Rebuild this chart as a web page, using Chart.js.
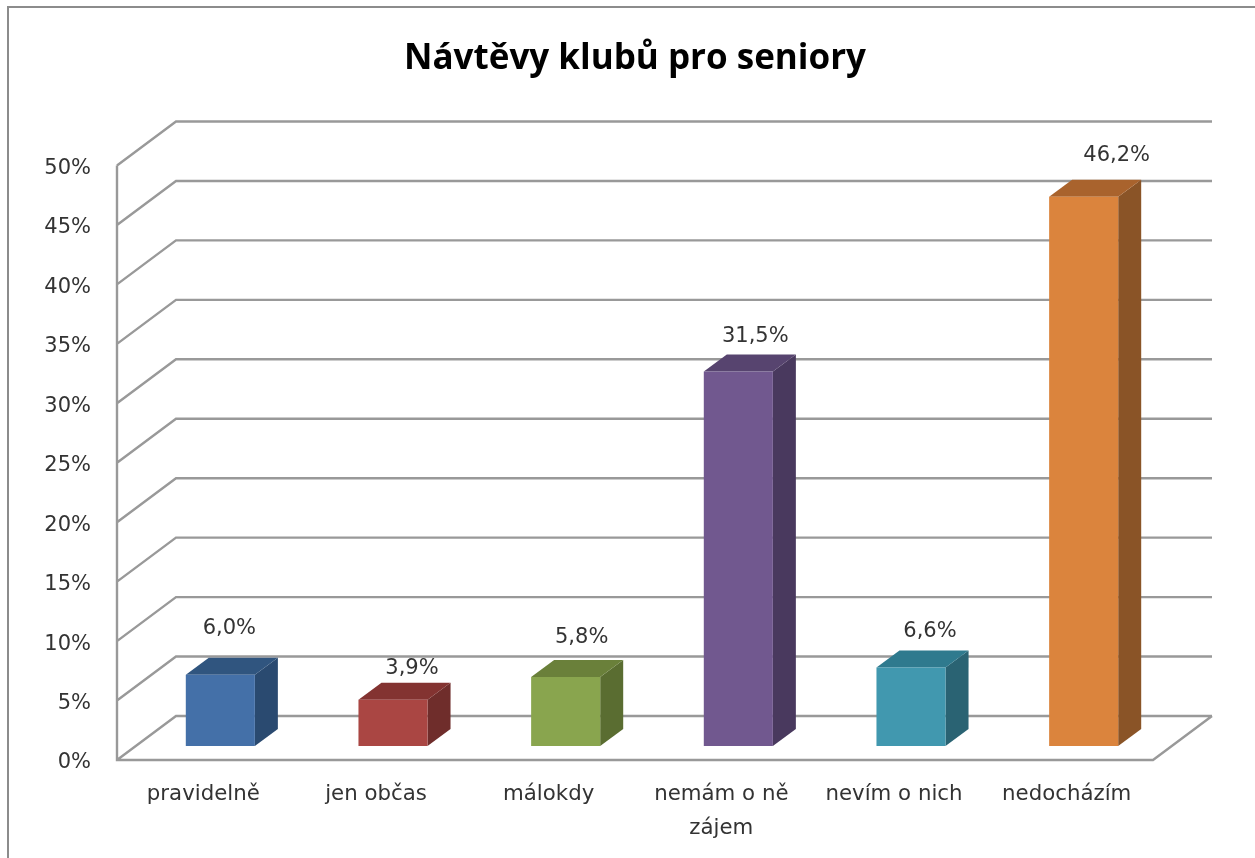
<!DOCTYPE html>
<html>
<head>
<meta charset="utf-8">
<title>Návtěvy klubů pro seniory</title>
<script src="https://cdn.jsdelivr.net/npm/chart.js@4/dist/chart.umd.js"></script>
<style>
  html, body { margin:0; padding:0; background:#fff; }
  canvas { display:block; filter:blur(.7px); }
</style>
</head>
<body>
<canvas id="clubChart" width="1255" height="858"></canvas>
<script>
const chartTitle = 'Návtěvy klubů pro seniory';
const categories = ['pravidelně', 'jen občas', 'málokdy', ['nemám o ně', 'zájem'], 'nevím o nich', 'nedocházím'];
const values     = [6.0, 3.9, 5.8, 31.5, 6.6, 46.2];
const faceColors = ['#4470a8', '#aa4643', '#89a54e', '#71588f', '#4198af', '#db843d'];
const topColors  = ['#30557f', '#833331', '#6a803a', '#57446f', '#2f7a8e', '#a9632d'];
const sideColors = ['#2a4a70', '#6f2d2b', '#5a6d31', '#49395e', '#2a6373', '#8a5427'];

// fake 3D, all in px
const WALL_DX = 59, WALL_DY = 44;   // depth of the floor
const BAR_DX = 17, BAR_DY = 14;     // bars stand in the middle of the floor
const SIDE_DX = 23, SIDE_DY = 17;   // depth of a bar
const GRID = '#999999', TEXT = '#333333';
const FONT = '"DejaVu Sans"';

// hand placed labels in the original, offset from the category centre / back of the bar top
const labelDx = [26, 36, 33, 34, 36, 50];
const labelDy = [29, 14, 22, 18, 19, 24];

const fmt = v => v.toFixed(1).replace('.', ',') + '%';

const walls3d = {
  id: 'walls3d',
  beforeDraw(chart) {
    const ctx = chart.ctx;
    // picture frame, only top and left show
    ctx.save();
    ctx.strokeStyle = '#8c8c8c';
    ctx.lineWidth = 2;
    ctx.beginPath();
    ctx.moveTo(8, chart.height);
    ctx.lineTo(8, 7);
    ctx.lineTo(chart.width, 7);
    ctx.stroke();
    ctx.restore();
  },
  beforeDatasetsDraw(chart) {
    const { ctx, chartArea: a, scales: { y } } = chart;
    ctx.save();
    ctx.strokeStyle = GRID;
    ctx.lineWidth = 2.4;
    ctx.beginPath();
    y.ticks.forEach(t => {
      const py = y.getPixelForValue(t.value);
      ctx.moveTo(a.left, py);
      ctx.lineTo(a.left + WALL_DX, py - WALL_DY);
      ctx.lineTo(a.right + WALL_DX, py - WALL_DY);
    });
    // axis + front edge of the floor
    ctx.moveTo(a.left, a.top);
    ctx.lineTo(a.left, a.bottom);
    ctx.lineTo(a.right, a.bottom);
    ctx.lineTo(a.right + WALL_DX, a.bottom - WALL_DY);
    ctx.stroke();
    ctx.restore();

    // sides and tops of the bars
    ctx.save();
    ctx.translate(BAR_DX, -BAR_DY);
    chart.getDatasetMeta(0).data.forEach((bar, i) => {
      const l = bar.x - bar.width / 2, r = bar.x + bar.width / 2;
      const poly = (pts, col) => {
        ctx.fillStyle = col;
        ctx.beginPath();
        pts.forEach(p => ctx.lineTo(p[0], p[1]));
        ctx.closePath();
        ctx.fill();
      };
      poly([[r, bar.y], [r + SIDE_DX, bar.y - SIDE_DY], [r + SIDE_DX, bar.base - SIDE_DY], [r, bar.base]], sideColors[i]);
      poly([[l, bar.y], [l + SIDE_DX, bar.y - SIDE_DY], [r + SIDE_DX, bar.y - SIDE_DY], [r, bar.y]], topColors[i]);
    });
    ctx.restore();

    // the library's own bars are the front faces
    ctx.save();
    ctx.translate(BAR_DX, -BAR_DY);
  },
  afterDatasetsDraw(chart) {
    const ctx = chart.ctx;
    ctx.restore();

    ctx.save();
    ctx.fillStyle = TEXT;
    ctx.font = '21px ' + FONT;
    ctx.textAlign = 'center';
    ctx.textBaseline = 'middle';
    chart.getDatasetMeta(0).data.forEach((bar, i) => {
      const topBack = bar.y - BAR_DY - SIDE_DY;
      ctx.fillText(fmt(values[i]), bar.x + labelDx[i], topBack - labelDy[i]);
    });
    ctx.restore();
  }
};

new Chart(document.getElementById('clubChart'), {
  type: 'bar',
  data: {
    labels: categories,
    datasets: [{
      data: values,
      backgroundColor: faceColors,
      borderWidth: 0,
      barPercentage: 0.4,
      categoryPercentage: 1
    }]
  },
  options: {
    responsive: false,
    animation: false,
    layout: { autoPadding: false, padding: { left: 0, right: 102, top: 0, bottom: 0 } },
    plugins: {
      legend: { display: false },
      tooltip: { enabled: false },
      title: {
        display: true,
        text: chartTitle,
        fullSize: false,
        color: '#000',
        font: { family: '"Open Sans"', size: 35, weight: 'bold', lineHeight: 1.2 },
        padding: { top: 38.5, bottom: 85 }
      }
    },
    scales: {
      x: {
        grid: { display: false },
        border: { display: false },
        ticks: { color: TEXT, font: { family: FONT, size: 21.3, lineHeight: 1.58 }, padding: 10, maxRotation: 0, autoSkip: false },
        afterFit: s => { s.height = 98; }
      },
      y: {
        min: 0,
        max: 50,
        grid: { display: false },
        border: { display: false },
        ticks: { stepSize: 5, color: TEXT, font: { family: FONT, size: 21 }, padding: 18, labelOffset: 3, callback: v => v + '%' },
        afterFit: s => { s.width = 117; }
      }
    }
  },
  plugins: [walls3d]
});
</script>
</body>
</html>
